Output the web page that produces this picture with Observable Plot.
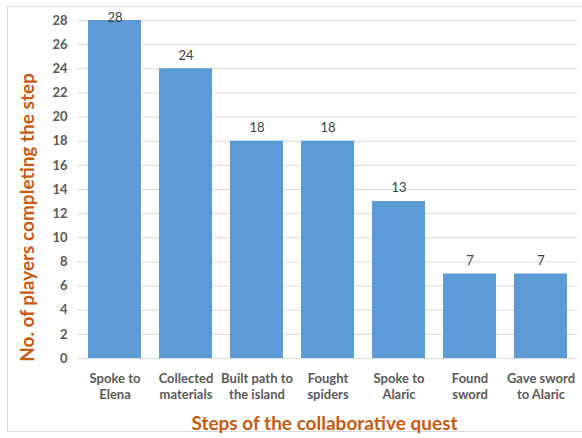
<!DOCTYPE html>
<html><head><meta charset="utf-8">
<script src="https://cdn.jsdelivr.net/npm/d3@7"></script>
<script src="https://cdn.jsdelivr.net/npm/@observablehq/plot@0.6"></script>
<style>
html,body{margin:0;padding:0;background:#fff;}
#wrap{position:relative;width:582px;height:438px;overflow:hidden;}
#border{position:absolute;left:7px;top:6px;width:600px;height:426px;border:1px solid #d9d9d9;box-sizing:border-box;}
#chart{position:absolute;left:0;top:0;}
</style></head>
<body><div id="wrap"><div id="border"></div><div id="chart"></div></div>
<script>
const steps = ["Spoke to\nElena","Collected\nmaterials","Built path to\nthe island","Fought\nspiders","Spoke to\nAlaric","Found\nsword","Gave sword\nto Alaric"];
const players = [28,24,18,18,13,7,7];
const yTicks = [0,2,4,6,8,10,12,14,16,18,20,22,24,26,28];
const data = steps.map((s,i)=>({step:s, value:players[i]}));
const font = "Lato, 'Open Sans', sans-serif";
const chart = Plot.plot({
  width:582, height:438,
  marginLeft:77, marginRight:5, marginTop:20, marginBottom:80,
  style:{fontFamily:font, background:"transparent"},
  x:{domain:steps, paddingInner:0.26, paddingOuter:0.13, label:null},
  y:{domain:[0,28], label:null},
  marks:[
    Plot.gridY(yTicks,{stroke:"#d9d9d9", strokeOpacity:1}),
    Plot.barY(data,{x:"step", y:"value", fill:"#5B9BD5"}),
    Plot.ruleY([0],{stroke:"#d9d9d9"}),
    Plot.text(data,{x:"step", y:d=>Math.min(d.value+1.1, 28.25), text:d=>String(d.value), fill:"#404040", fontSize:13}),
    Plot.axisY(yTicks,{tickSize:0, tickPadding:10, fontSize:13, fontWeight:"bold", color:"#595959", label:null}),
    Plot.axisX({tickSize:0, tickPadding:13, fontSize:13, fontWeight:"bold", color:"#595959", lineHeight:1.25, label:null}),
    Plot.text(["No. of players completing the step"],{frameAnchor:"left", textAnchor:"middle", dx:-50, dy:28, rotate:-90, fill:"#C55A11", fontSize:19, fontWeight:"bold"}),
    Plot.text(["Steps of the collaborative quest"],{frameAnchor:"bottom", dy:71, dx:-3, fill:"#C55A11", fontSize:19, fontWeight:"bold"})
  ]
});
document.getElementById("chart").appendChild(chart);
</script></body></html>
